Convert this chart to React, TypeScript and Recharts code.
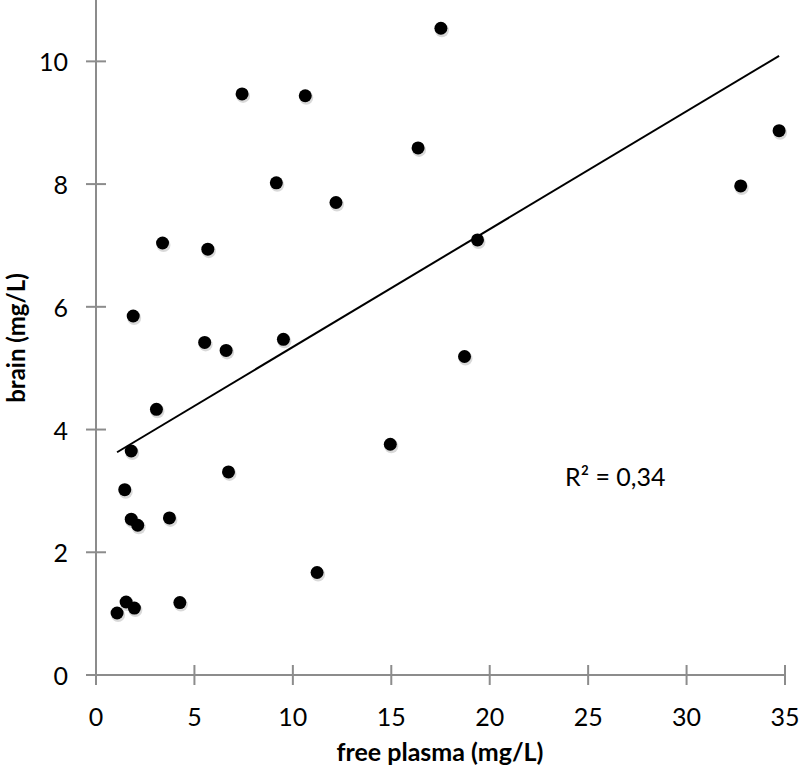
import { ScatterChart, Scatter, XAxis, YAxis } from 'recharts'

// free plasma (mg/L) vs brain (mg/L)
const freePlasma = [1.07, 1.53, 1.95, 4.26, 1.46, 1.79, 1.79, 2.12, 3.73, 3.07, 1.89, 3.38, 5.68, 5.52, 6.61, 6.73, 7.42, 10.63, 9.16, 9.52, 12.19, 11.23, 14.95, 16.36, 17.52, 18.72, 19.38, 32.75, 34.7]
const brain = [1.01, 1.19, 1.09, 1.18, 3.02, 3.65, 2.54, 2.44, 2.56, 4.33, 5.85, 7.04, 6.94, 5.42, 5.29, 3.31, 9.47, 9.44, 8.02, 5.47, 7.7, 1.67, 3.76, 8.59, 10.54, 5.19, 7.09, 7.97, 8.87]

// linear trendline end points
const trendX = [1.07, 34.7]
const trendY = [3.63, 10.09]

const xTicks = [0, 5, 10, 15, 20, 25, 30, 35]
const yTicks = [0, 2, 4, 6, 8, 10]

const points = freePlasma.map((x, i) => ({ x, y: brain[i] }))
const trend = trendX.map((x, i) => ({ x, y: trendY[i] }))

const FONT = 'Lato, "Open Sans", sans-serif'
const AXIS = '#8c8c8c'

const Dot = (props: any) => {
  const { cx, cy } = props
  return (
    <g>
      <circle cx={cx + 1} cy={cy + 2} r={7} fill="rgba(0,0,0,0.15)" />
      <circle cx={cx} cy={cy} r={6.5} fill="#000" />
    </g>
  )
}

const XTick = (props: any) => {
  const { x, y, payload } = props
  return (
    <g>
      <line x1={x} x2={x} y1={y - 10} y2={y + 10} stroke={AXIS} strokeWidth={2} />
      <text x={x} y={y + 51} textAnchor="middle" fontSize={25} fontFamily={FONT} fill="#000">
        {payload.value}
      </text>
    </g>
  )
}

const YTick = (props: any) => {
  const { x, y, payload } = props
  return (
    <g>
      <line x1={x - 10} x2={x + 10} y1={y} y2={y} stroke={AXIS} strokeWidth={2} />
      <text x={x - 28} y={y + 10} textAnchor="end" fontSize={25} fontFamily={FONT} fill="#000">
        {payload.value}
      </text>
    </g>
  )
}

export default function App() {
  return (
    <div style={{ position: 'absolute', left: 0, top: 0, background: '#fff' }}>
      <ScatterChart width={800} height={777} margin={{ top: 0, right: 15, bottom: 0, left: 0 }}>
        <XAxis
          type="number"
          dataKey="x"
          domain={[0, 35]}
          ticks={xTicks}
          interval={0}
          tickSize={0}
          tickMargin={0}
          tickLine={false}
          axisLine={{ stroke: AXIS, strokeWidth: 2 }}
          tick={<XTick />}
          height={102}
        />
        <YAxis
          type="number"
          dataKey="y"
          domain={[0, 11]}
          ticks={yTicks}
          interval={0}
          tickSize={0}
          tickMargin={0}
          tickLine={false}
          axisLine={{ stroke: AXIS, strokeWidth: 2 }}
          tick={<YTick />}
          width={96}
        />
        <Scatter data={points} shape={<Dot />} isAnimationActive={false} />
        <Scatter
          data={trend}
          line={{ stroke: '#000', strokeWidth: 2 }}
          shape={() => <g />}
          isAnimationActive={false}
        />
        <text x={440} y={761} textAnchor="middle" fontSize={25} fontWeight="bold" fontFamily={FONT} fill="#000">
          free plasma (mg/L)
        </text>
        <text
          x={25}
          y={338}
          transform="rotate(-90 25 338)"
          textAnchor="middle"
          fontSize={24}
          fontWeight="bold"
          fontFamily={FONT}
          fill="#000"
        >
          brain (mg/L)
        </text>
        <text x={565} y={486} fontSize={25} fontFamily={FONT} fill="#000">
          R² = 0,34
        </text>
      </ScatterChart>
    </div>
  )
}
